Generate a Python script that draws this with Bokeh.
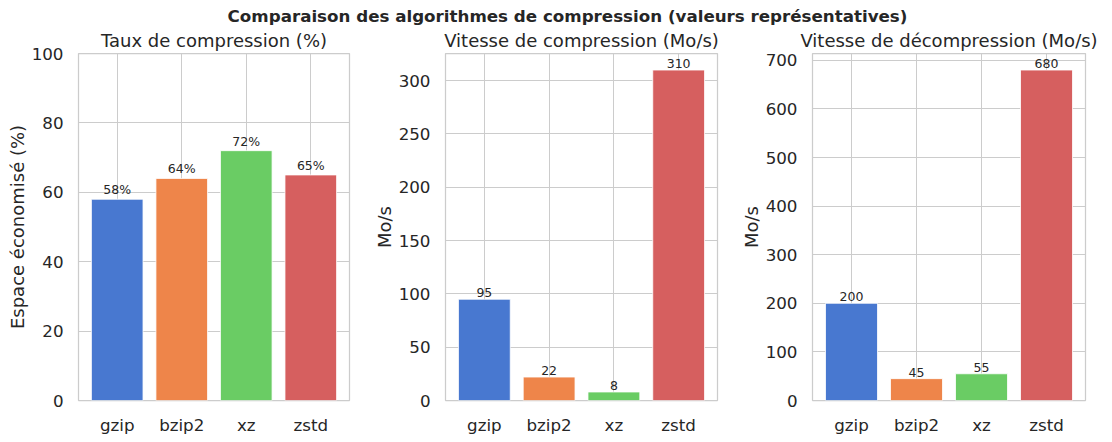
import numpy as np
from bokeh.plotting import figure
from bokeh.layouts import column, row
from bokeh.models import Range1d, FixedTicker, ColumnDataSource
from bokeh.core.properties import value
from bokeh.embed import file_html
from bokeh.resources import INLINE

algos = ["gzip", "bzip2", "xz", "zstd"]
colors = ["#4878d0", "#ee854a", "#6acc64", "#d65f5f"]
ratio = [58, 64, 72, 65]
comp_speed = [95, 22, 8, 310]
decomp_speed = [200, 45, 55, 680]

suptitle = "Comparaison des algorithmes de compression (valeurs représentatives)"
titles = ["Taux de compression (%)", "Vitesse de compression (Mo/s)", "Vitesse de décompression (Mo/s)"]
ylabels = ["Espace économisé (%)", "Mo/s", "Mo/s"]
ymax = [100, 310 * 1.05, 680 * 1.05]
yticks = [list(range(0, 101, 20)), list(range(0, 301, 50)), list(range(0, 701, 100))]
labels = [[f"{v}%" for v in ratio], [str(v) for v in comp_speed], [str(v) for v in decomp_speed]]
values = [ratio, comp_speed, decomp_speed]

FONT = "DejaVu Sans"
TXT = "#262626"
GRID = "#cccccc"

borders = [(78, 20), (76, 19), (76, 17)]
frame_w = [271, 272, 273]
STRIP_H = 25

# suptitle strip
top = figure(width=1102, height=STRIP_H, toolbar_location=None, output_backend="svg",
             x_axis_location=None, y_axis_location=None, min_border=0,
             x_range=Range1d(0, 1102), y_range=Range1d(0, STRIP_H))
top.outline_line_color = None
top.grid.visible = False
top.text(x=[567], y=[STRIP_H - 15], text=[suptitle], text_align="center", text_baseline="middle",
         text_font=value(FONT), text_font_size="16.7px", text_font_style="bold", text_color=TXT)

panels = []
xs = np.arange(len(algos))
for i in range(3):
    bl, br = borders[i]
    p = figure(frame_width=frame_w[i], frame_height=347, toolbar_location=None,
               output_backend="svg", x_range=Range1d(-0.6, 3.6), y_range=Range1d(0, ymax[i]),
               min_border_left=bl, min_border_right=br, min_border_top=27, min_border_bottom=35)
    src = ColumnDataSource(dict(x=xs, top=values[i], color=colors, label=labels[i]))
    p.vbar(x="x", top="top", width=0.8, bottom=0, fill_color="color", line_color="white",
           line_width=0.8, source=src)
    p.text(x="x", y="top", text="label", source=src, text_align="center",
           text_baseline="bottom", y_offset=-2, text_font_size="12.5px",
           text_color=TXT, text_font=value(FONT))
    p.title.text = titles[i]
    p.title.align = "center"
    p.title.text_font = FONT
    p.title.text_font_size = "18px"
    p.title.text_font_style = "normal"
    p.title.text_color = TXT
    p.title.standoff = 5
    p.xaxis.ticker = FixedTicker(ticks=list(xs))
    p.xaxis.major_label_overrides = {int(k): a for k, a in zip(xs, algos)}
    p.yaxis.ticker = FixedTicker(ticks=yticks[i])
    p.yaxis.axis_label = ylabels[i]
    for ax in (p.xaxis, p.yaxis):
        ax.axis_line_color = None
        ax.major_tick_line_color = None
        ax.minor_tick_line_color = None
        ax.major_tick_in = 0
        ax.major_tick_out = 0
        ax.major_label_text_font = FONT
        ax.major_label_text_font_size = "16.7px"
        ax.major_label_text_color = TXT
        ax.axis_label_text_font = FONT
        ax.axis_label_text_font_size = "18px"
        ax.axis_label_text_font_style = "normal"
        ax.axis_label_text_color = TXT
    p.yaxis.major_label_standoff = 15
    p.yaxis.axis_label_standoff = 1
    p.xaxis.major_label_standoff = 14
    p.grid.grid_line_color = GRID
    p.grid.grid_line_width = 1
    p.xgrid.ticker = FixedTicker(ticks=list(xs))
    p.outline_line_color = GRID
    p.outline_line_width = 1.25
    p.background_fill_color = "white"
    panels.append(p)

layout = column(top, row(*panels, spacing=0), spacing=0)
open("out.html", "w").write(file_html(layout, INLINE))
